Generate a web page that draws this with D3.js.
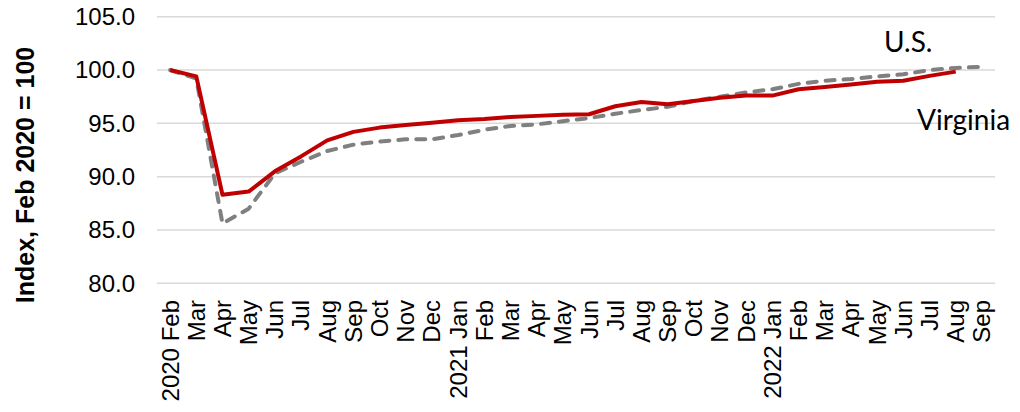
<!DOCTYPE html>
<html>
<head>
<meta charset="utf-8">
<script src="https://cdn.jsdelivr.net/npm/d3@7"></script>
<style>
body{margin:0;background:#fff}
svg{display:block}
</style>
</head>
<body>
<svg width="1020" height="412"></svg>
<script>
const months=["2020 Feb","Mar","Apr","May","Jun","Jul","Aug","Sep","Oct","Nov","Dec",
"2021 Jan","Feb","Mar","Apr","May","Jun","Jul","Aug","Sep","Oct","Nov","Dec",
"2022 Jan","Feb","Mar","Apr","May","Jun","Jul","Aug","Sep"]
// Virginia stops at Aug 2022
const virginia=[100.0,99.4,88.3,88.6,90.5,91.9,93.4,94.2,94.6,94.85,95.05,
95.3,95.4,95.6,95.7,95.8,95.85,96.6,97.0,96.8,97.1,97.4,97.6,
97.6,98.2,98.4,98.65,98.9,99.0,99.45,99.85]
const us=[100.0,99.2,85.6,87.0,90.3,91.4,92.4,93.0,93.3,93.5,93.5,
93.9,94.4,94.75,94.9,95.2,95.5,95.9,96.25,96.55,97.1,97.5,97.9,
98.2,98.7,99.0,99.15,99.4,99.6,100.0,100.2,100.3]
const yTicks=[80,85,90,95,100,105]

const svg=d3.select("svg")
const x=d3.scaleBand().domain(d3.range(months.length)).range([157,995])
const y=d3.scaleLinear().domain([80,105]).range([283.3,16.7])
const cx=i=>x(i)+x.bandwidth()/2
const arial="Arial, 'Liberation Sans', sans-serif"

// gridlines
svg.append("g").selectAll("line").data(yTicks).join("line")
.attr("x1",157).attr("x2",995)
.attr("y1",d=>y(d)).attr("y2",d=>y(d))
.attr("stroke","#d9d9d9").attr("stroke-width",1.5)

// y tick labels
svg.append("g").selectAll("text").data(yTicks).join("text")
.attr("x",135).attr("y",d=>y(d)).attr("dy","0.35em")
.attr("text-anchor","end")
.attr("font-family",arial).attr("font-size",24).attr("fill","#000")
.text(d=>d.toFixed(1))

// x labels, rotated
svg.append("g").selectAll("text").data(months).join("text")
.attr("transform",(d,i)=>`translate(${cx(i)},300) rotate(-90)`)
.attr("text-anchor","end").attr("dy","0.35em")
.attr("font-family",arial).attr("font-size",24).attr("fill","#000")
.text(d=>d)

// axis title
svg.append("text")
.attr("transform","translate(25,175) rotate(-90)")
.attr("text-anchor","middle").attr("dy","0.35em")
.attr("font-family",arial).attr("font-size",25).attr("font-weight","bold")
.text("Index, Feb 2020 = 100")

const line=d3.line().x((d,i)=>cx(i)).y(d=>y(d))

svg.append("path").datum(us).attr("d",line)
.attr("fill","none").attr("stroke","#808080").attr("stroke-width",4)
.attr("stroke-dasharray","9,9").attr("stroke-linecap","round").attr("stroke-linejoin","round")

svg.append("path").datum(virginia).attr("d",line)
.attr("fill","none").attr("stroke","#c00000").attr("stroke-width",4)
.attr("stroke-linejoin","round")

// series labels
svg.append("text").attr("x",884).attr("y",52)
.attr("font-family","Lato, 'Open Sans', sans-serif").attr("font-size",28).text("U.S.")
svg.append("text").attr("x",917).attr("y",130)
.attr("font-family","Lato, 'Open Sans', sans-serif").attr("font-size",28).text("Virginia")
</script>
</body>
</html>
